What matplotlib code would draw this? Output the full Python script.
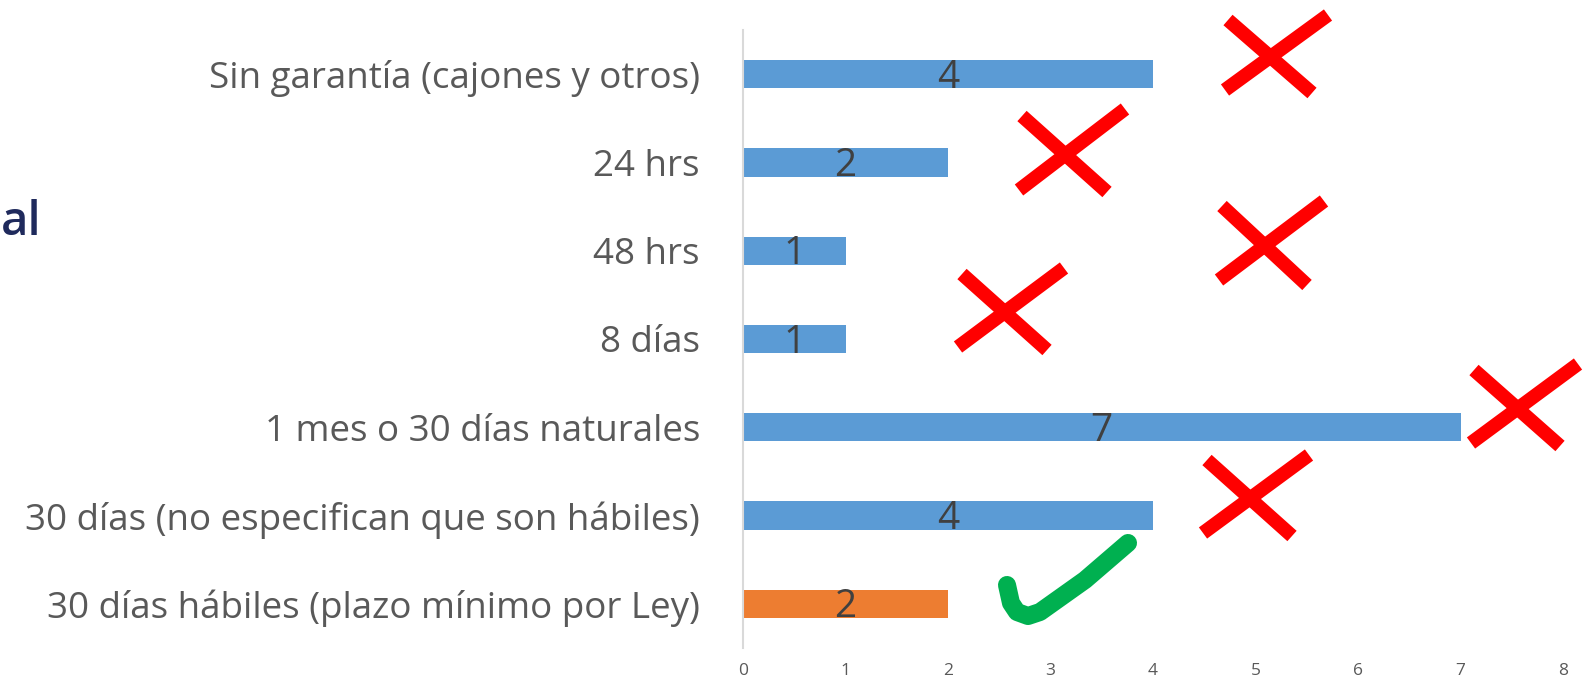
import matplotlib.pyplot as plt
import numpy as np

# data, top to bottom as shown
categories = [
    "Sin garantía (cajones y otros)",
    "24 hrs",
    "48 hrs",
    "8 días",
    "1 mes o 30 días naturales",
    "30 días (no especifican que son hábiles)",
    "30 días hábiles (plazo mínimo por Ley)",
]
values = [4, 2, 1, 1, 7, 4, 2]
legal = [False, False, False, False, False, False, True]
xticks = list(range(0, 9))

blue = "#5b9bd5"
orange = "#ed7d31"
gray = "#595959"

W, H = 1586, 691
fig = plt.figure(figsize=(W / 100, H / 100), dpi=100)
ax = fig.add_axes([743 / W, 1 - 648 / H, (1563 - 743) / W, (648 - 30) / H])

y = np.arange(len(categories))[::-1]
cols = [orange if ok else blue for ok in legal]
ax.barh(y, values, height=0.32, color=cols)

for yi, v in zip(y, values):
    ax.text(v / 2, yi - 0.04, str(v), ha="center", va="center",
            fontsize=28, color="#404040", family="Open Sans")

ax.set_xlim(0, 8)
ax.set_ylim(-0.5, len(categories) - 0.5)
ax.set_xticks(xticks)
ax.set_xticklabels([str(t) for t in xticks], fontsize=12.5, color=gray, family="Open Sans")
ax.set_yticks(y)
ax.set_yticklabels(categories, fontsize=26.5, color=gray, family="Open Sans")
ax.tick_params(axis="both", length=0)
ax.tick_params(axis="y", pad=31)
ax.tick_params(axis="x", pad=11)
for s in ["top", "right", "bottom"]:
    ax.spines[s].set_visible(False)
ax.spines["left"].set_color("#d9d9d9")
ax.spines["left"].set_linewidth(1.5)

# overlay marks (pixel coords of the picture)
crosses = [
    ((1228, 20), (1312, 93), (1225, 90), (1328, 15)),
    ((1022, 116), (1107, 192), (1019, 190), (1125, 109)),
    ((1222, 206), (1307, 285), (1219, 280), (1324, 201)),
    ((962, 274), (1047, 350), (958, 347), (1064, 268)),
    ((1474, 370), (1560, 446), (1471, 443), (1578, 364)),
    ((1207, 460), (1292, 536), (1203, 533), (1309, 455)),
]
for a, b, c, d in crosses:
    for p, q in ((a, b), (c, d)):
        fig.add_artist(plt.Line2D([p[0] / W, q[0] / W], [1 - p[1] / H, 1 - q[1] / H],
                                  color="#ff0000", lw=10, solid_capstyle="butt",
                                  transform=fig.transFigure))

check_x = [1007, 1011, 1017, 1028, 1040, 1085, 1128]
check_y = [585, 603, 612, 616, 612, 580, 543]
fig.add_artist(plt.Line2D([x / W for x in check_x], [1 - v / H for v in check_y],
                          color="#00b050", lw=13, solid_capstyle="round",
                          solid_joinstyle="round", transform=fig.transFigure))

fig.text(1 / W, 1 - 222 / H, "al", fontsize=34, color="#1f2a5c",
         family="Open Sans", fontweight="semibold", va="center", ha="left")

fig.savefig("out.png", dpi=100)
